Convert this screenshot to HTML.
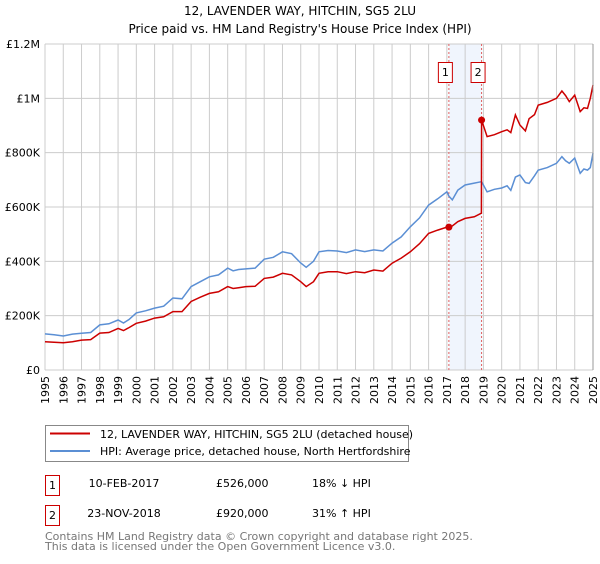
<!DOCTYPE html>
<html><head><meta charset="utf-8"><style>
body{margin:0;background:#fff;font-family:"DejaVu Sans","Liberation Sans",sans-serif;}
svg text{font-family:"DejaVu Sans","Liberation Sans",sans-serif;}
</style></head><body>
<svg id="chart" width="600" height="560" xmlns="http://www.w3.org/2000/svg">
<text x="300" y="15" text-anchor="middle" font-size="12">12, LAVENDER WAY, HITCHIN, SG5 2LU</text>
<text x="300" y="33" text-anchor="middle" font-size="12">Price paid vs. HM Land Registry's House Price Index (HPI)</text>
<g id="grid"></g>
<g id="series"></g>
<g id="axes"></g>
<g>
<rect x="45.5" y="425.5" width="363" height="36" fill="#fff" stroke="#888"/>
<line x1="50" y1="433.5" x2="90" y2="433.5" stroke="#cc0000" stroke-width="2"/>
<text x="100" y="438" font-size="11">12, LAVENDER WAY, HITCHIN, SG5 2LU (detached house)</text>
<line x1="50" y1="451" x2="90" y2="451" stroke="#5b8fd4" stroke-width="2"/>
<text x="100" y="455" font-size="11">HPI: Average price, detached house, North Hertfordshire</text>
</g>
<g font-size="11">
<rect x="45.5" y="475.5" width="14" height="20" fill="#fff" stroke="#cc0000"/>
<text x="52.5" y="489" text-anchor="middle">1</text>
<text x="124" y="487" text-anchor="middle">10-FEB-2017</text>
<text x="216" y="487">£526,000</text>
<text x="312" y="487">18% ↓ HPI</text>
<rect x="45.5" y="505.5" width="14" height="20" fill="#fff" stroke="#cc0000"/>
<text x="52.5" y="519" text-anchor="middle">2</text>
<text x="124" y="517" text-anchor="middle">23-NOV-2018</text>
<text x="216" y="517">£920,000</text>
<text x="312" y="517">31% ↑ HPI</text>
</g>
<text x="45" y="540" font-size="11" fill="#777">Contains HM Land Registry data © Crown copyright and database right 2025.</text>
<text x="45" y="550" font-size="11" fill="#777">This data is licensed under the Open Government Licence v3.0.</text>
</svg>
<script>
const yearTicks=[1995,1996,1997,1998,1999,2000,2001,2002,2003,2004,2005,2006,2007,2008,2009,2010,2011,2012,2013,2014,2015,2016,2017,2018,2019,2020,2021,2022,2023,2024,2025];
const yTicks=[0,200000,400000,600000,800000,1000000,1200000];
const yTickLabels=["£0","£200K","£400K","£600K","£800K","£1M","£1.2M"];
const dates=[1995,1995.5,1996,1996.5,1997,1997.5,1998,1998.5,1999,1999.3,1999.6,2000,2000.5,2001,2001.5,2002,2002.5,2003,2003.5,2004,2004.5,2005,2005.3,2005.6,2006,2006.5,2007,2007.5,2008,2008.5,2009,2009.3,2009.7,2010,2010.5,2011,2011.5,2012,2012.5,2013,2013.5,2014,2014.5,2015,2015.5,2016,2016.5,2017,2017.11,2017.3,2017.6,2018,2018.5,2018.89,2018.9,2019.2,2019.6,2020,2020.3,2020.5,2020.75,2021,2021.3,2021.5,2021.8,2022,2022.5,2023,2023.3,2023.5,2023.7,2024,2024.3,2024.5,2024.7,2024.85,2025];
const hpiK=[133,130,125,132,135,138,166,170,184,173,186,210,218,228,235,265,262,307,325,343,350,375,365,370,372,375,408,415,435,428,394,378,400,435,440,438,432,442,436,442,438,467,490,527,560,607,630,656,640,626,662,681,688,693,693,656,665,670,678,661,710,718,690,687,715,736,745,761,785,770,761,780,724,740,736,745,798];
const redK=[104,102,100,104,110,112,136,138,153,145,156,172,180,191,196,215,215,252,268,282,288,307,300,303,307,308,337,342,356,350,325,307,325,356,362,362,355,362,358,368,364,393,412,435,465,503,515,526,526,530,546,558,564,577,920,859,866,877,884,874,939,902,880,925,940,975,985,1000,1027,1010,988,1012,951,965,963,1000,1049];
const sales=[{n:"1",t:2017.11,v:526000},{n:"2",t:2018.9,v:920000}];
const NS="http://www.w3.org/2000/svg";
const X0=45,X1=593,Y0=370,Y1=44;
function xs(t){return X0+(t-1995)/30*(X1-X0);}
function ys(v){return Y0-v/1200000*(Y0-Y1);}
function mk(tag,attrs,parent){const e=document.createElementNS(NS,tag);for(const k in attrs)e.setAttribute(k,attrs[k]);parent.appendChild(e);return e;}
const grid=document.getElementById('grid'),axes=document.getElementById('axes'),series=document.getElementById('series');
const band=mk('rect',{x:xs(sales[0].t),y:Y1,width:xs(sales[1].t)-xs(sales[0].t),height:Y0-Y1,fill:'#f0f5fd'},grid);


yearTicks.forEach(y=>{
 const l=mk('line',{x1:xs(y),x2:xs(y),y1:Y1,y2:Y0,stroke:'#cccccc','stroke-width':1},grid);
 
 
 const t=mk('text',{x:0,y:0,'font-size':11,'text-anchor':'end',transform:`translate(${xs(y)+4},376) rotate(-90)`},axes);
 t.textContent=y;
 
 
});
yTicks.forEach((v,i)=>{
 const l=mk('line',{x1:X0,x2:X1,y1:ys(v),y2:ys(v),stroke:'#cccccc','stroke-width':1},grid);
 
 
 const t=mk('text',{x:40,y:ys(v)+4,'font-size':11,'text-anchor':'end'},axes);
 t.textContent=yTickLabels[i];
 
 
});
const rb=mk('line',{x1:X1,x2:X1,y1:Y1,y2:Y0,stroke:'#999','stroke-width':1},axes);


sales.forEach(s=>{
 const l=mk('line',{x1:xs(s.t),x2:xs(s.t),y1:Y1,y2:Y0,stroke:'#e06060','stroke-width':1,'stroke-dasharray':'2,2'},grid);
 
 
 const r=mk('rect',{x:xs(s.t)-10.5,y:62.5,width:14,height:20,fill:'#fff',stroke:'#cc0000'},axes);
 
 
 const t=mk('text',{x:xs(s.t)-3.5,y:76,'font-size':11,'text-anchor':'middle'},axes);
 t.textContent=s.n;
 
 
});
function path(vals){return vals.map((v,i)=>(i?'L':'M')+xs(dates[i]).toFixed(1)+','+ys(v*1000).toFixed(1)).join('');}
const hp=mk('path',{d:path(hpiK),fill:'none',stroke:'#5b8fd4','stroke-width':1.5},series);


const rp=mk('path',{d:path(redK),fill:'none',stroke:'#cc0000','stroke-width':1.5},series);


sales.forEach(s=>{
 const c=mk('circle',{cx:xs(s.t),cy:ys(s.v),r:3.5,fill:'#cc0000'},series);
 
 
});
</script>
</body></html>
